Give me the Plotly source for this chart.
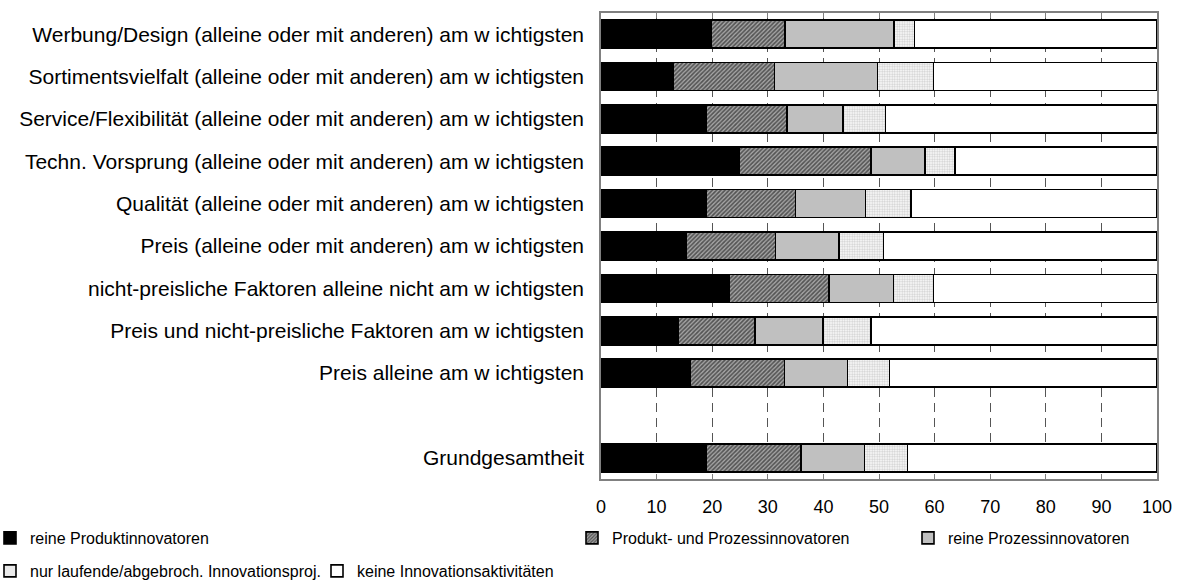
import plotly.graph_objs as go

categories = [
    "Werbung/Design (alleine oder mit anderen) am w ichtigsten",
    "Sortimentsvielfalt (alleine oder mit anderen) am w ichtigsten",
    "Service/Flexibilität (alleine oder mit anderen) am w ichtigsten",
    "Techn. Vorsprung (alleine oder mit anderen) am w ichtigsten",
    "Qualität (alleine oder mit anderen) am w ichtigsten",
    "Preis (alleine oder mit anderen) am w ichtigsten",
    "nicht-preisliche Faktoren alleine nicht am w ichtigsten",
    "Preis und nicht-preisliche Faktoren am w ichtigsten",
    "Preis alleine am w ichtigsten",
    " ",
    "Grundgesamtheit",
]

produkt = [19.9, 13.0, 18.9, 24.9, 18.9, 15.3, 23.1, 13.8, 16.0, None, 18.9]
produkt_prozess = [13.2, 18.2, 14.6, 23.7, 16.1, 16.1, 17.9, 13.9, 17.0, None, 17.1]
prozess = [19.6, 18.5, 10.0, 9.7, 12.6, 11.4, 11.6, 12.2, 11.3, None, 11.4]
laufend = [3.7, 10.1, 7.7, 5.4, 8.2, 8.0, 7.2, 8.7, 7.6, None, 7.7]
keine = [43.6, 40.2, 48.8, 36.3, 44.2, 49.2, 40.2, 51.4, 48.1, None, 44.9]

series_names = [
    "reine Produktinnovatoren",
    "Produkt- und Prozessinnovatoren",
    "reine Prozessinnovatoren",
    "nur laufende/abgebroch. Innovationsproj.",
    "keine Innovationsaktivitäten",
]
x_ticks = [0, 10, 20, 30, 40, 50, 60, 70, 80, 90, 100]

W, H = 1177, 583
L, R, T, B = 601, 20, 13, 104
FONT = "Liberation Sans, Arial, sans-serif"

styles = [
    dict(color="black"),
    dict(color="#999999", pattern=dict(shape="/", fgcolor="black", bgcolor="#a8a8a8", size=3, solidity=0.55)),
    dict(color="#c0c0c0"),
    dict(color="white", pattern=dict(shape=".", fgcolor="#a0a0a0", bgcolor="white", size=2.5, solidity=0.5)),
    dict(color="white"),
]

# legend boxes in page px: left x, center y
legend_pos = [(-10, 538), (572, 538), (908, 538), (-10, 571), (317, 571)]

fig = go.Figure()
all_values = [produkt, produkt_prozess, prozess, laufend, keine]
for i, (name, vals) in enumerate(zip(series_names, all_values)):
    legend_id = "legend" if i == 0 else "legend%d" % (i + 1)
    fig.add_trace(go.Bar(
        y=categories, x=vals, name=name, orientation="h",
        marker=dict(line=dict(color="black", width=1.6), **styles[i]),
        legend=legend_id, showlegend=True,
    ))

fig.update_layout(
    barmode="stack",
    bargap=0.34,
    width=W, height=H,
    showlegend=True,
    margin=dict(l=L, r=R, t=T, b=B, autoexpand=False),
    plot_bgcolor="white", paper_bgcolor="white",
    font=dict(family=FONT, size=17, color="black"),
)

pw, ph = W - L - R, H - T - B
for i, (lx, ly) in enumerate(legend_pos):
    key = "legend" if i == 0 else "legend%d" % (i + 1)
    fig.update_layout({key: dict(
        xref="paper", yref="paper",
        x=(lx - L) / pw, y=(H - B - ly) / ph, xanchor="left", yanchor="middle",
        bgcolor="rgba(0,0,0,0)", font=dict(family=FONT, size=16),
        itemwidth=30, tracegroupgap=0, visible=True,
    )})

fig.update_xaxes(
    range=[0, 100], tickvals=x_ticks, ticks="inside", ticklen=5,
    tickcolor="#808080", showline=True, linecolor="#808080", linewidth=1.5,
    mirror="ticks", showgrid=True, gridcolor="#555555", griddash="9px,6px",
    gridwidth=1, zeroline=False, fixedrange=True,
    tickfont=dict(size=18), ticklabelstandoff=11,
)
fig.update_yaxes(
    categoryorder="array", categoryarray=categories, autorange="reversed",
    showline=True, linecolor="#808080", linewidth=1.5, mirror=True,
    ticks="", ticklabelstandoff=11, automargin=False, showgrid=False,
    tickfont=dict(size=21),
)

# drop the default 8px body margin so the figure fills the window exactly
fig.write_html("out.html", config={"displayModeBar": False},
               post_script="document.body.style.margin='0';")
